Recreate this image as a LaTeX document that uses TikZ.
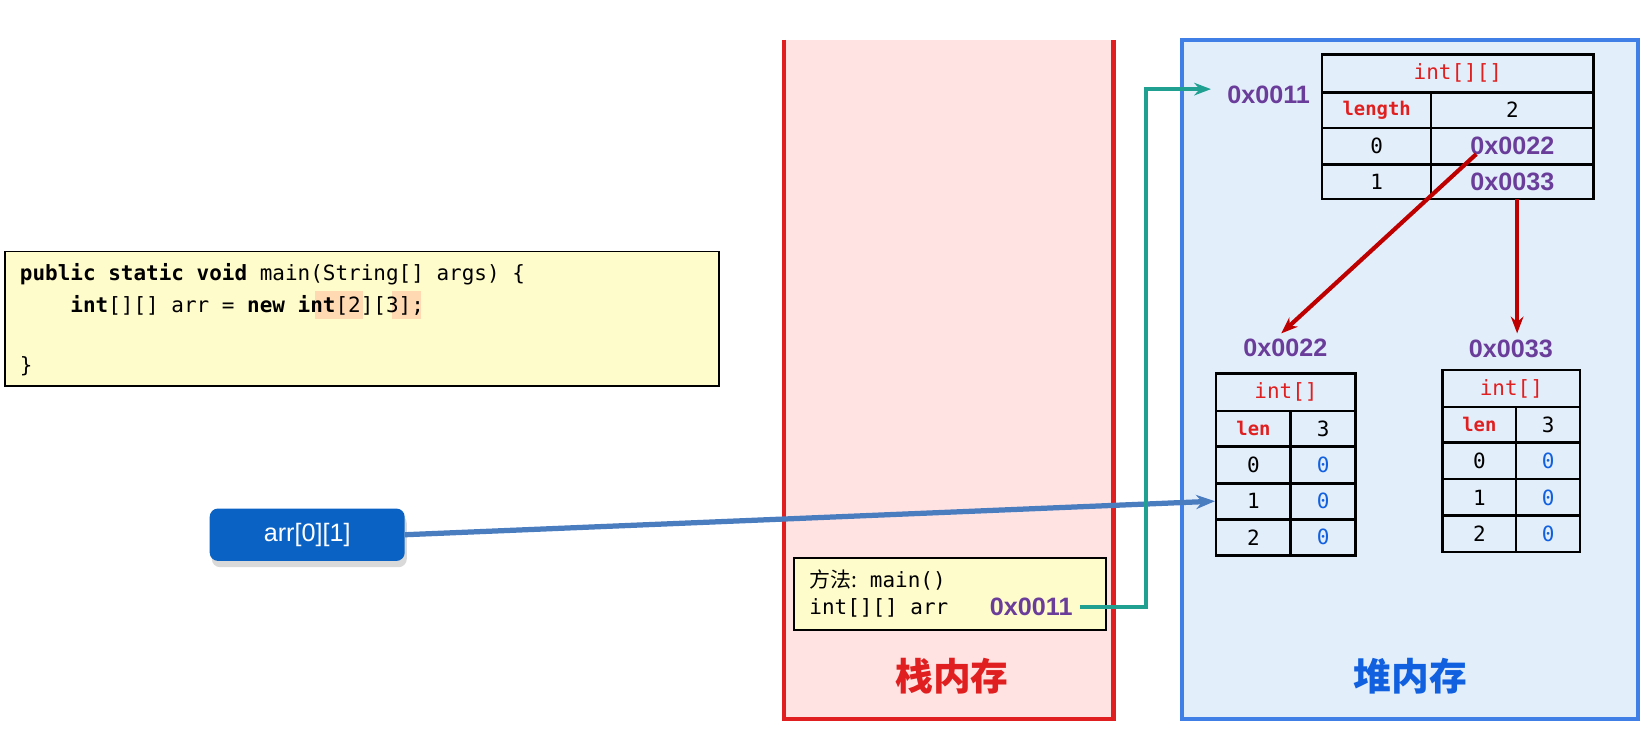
\documentclass[tikz,border=0pt]{standalone}
\usepackage{fontspec}
\setmainfont{Liberation Sans}
\setmonofont{DejaVu Sans Mono}
\newfontfamily\cjk{Noto Sans CJK SC}
\usetikzlibrary{arrows.meta}
\definecolor{hexp}{HTML}{6A3D9A}
\definecolor{redt}{HTML}{E02020}
\definecolor{bluet}{HTML}{1060E0}
\definecolor{heapbg}{HTML}{E3EEFB}
\definecolor{btnc}{HTML}{0A63C4}
\definecolor{steel}{HTML}{4A7CC0}
\definecolor{tealc}{HTML}{20A090}
\tikzset{
 cell/.style={draw=black,line width=1.2pt,minimum height=0pt,minimum width=0pt,inner sep=0pt},
 hex/.style={text=hexp,font=\rmfamily\bfseries\fontsize{12}{14}\selectfont},
 tt/.style={font=\ttfamily\fontsize{10}{12}\selectfont},
 lab/.style={font=\ttfamily\bfseries\fontsize{9}{11}\selectfont,text=redt},
 zero/.style={font=\ttfamily\fontsize{10}{12}\selectfont,text=bluet},
}
\begin{document}
\begin{tikzpicture}[x=0.5pt,y=-0.5pt]
\useasboundingbox (0,0) rectangle (1568,696);
\fill[white] (0,0) rectangle (1568,696);
% stack
\fill[red!11] (748,38) rectangle (1062,686);
\draw[redt,line width=2pt] (748,38) -- (748,686) -- (1062,686) -- (1062,38);
\node[text=redt,font=\cjk\bfseries\fontsize{18}{20}\selectfont] (stl) at (908,645) {栈内存};
% heap
\draw[fill=heapbg,draw=bluet!80,line width=2pt] (1127,38) rectangle (1562,686);
\node[text=bluet,font=\cjk\bfseries\fontsize{18}{20}\selectfont] (hpl) at (1345,645) {堆内存};
% code
\draw[fill=yellow!20,line width=0.8pt] (5,240) rectangle (686,368);
\fill[orange!30] (300,278) rectangle (346,304);
\fill[orange!30] (374,278) rectangle (402,304);
\node[tt,anchor=west] (c1) at (12,262) {\textbf{public static void} main(String[] args) \{};
\node[tt,anchor=west] (c2) at (12,291) {\phantom{xxxx}\textbf{int}[][] arr = \textbf{new} \textbf{int}[2][3];};
\node[tt,anchor=west] (c3) at (12,349) {\}};
% button
\fill[black!15,rounded corners=4pt] (202,491) rectangle (388,541);
\node[fill=btnc,rounded corners=4pt,minimum width=93pt,minimum height=25pt,text=white,font=\rmfamily\fontsize{12}{14}\selectfont] (btn) at (293,510) {arr[0][1]};
% stack frame
\draw[fill=yellow!20,line width=0.8pt] (757,532) rectangle (1055,601);
\node[tt,anchor=west] (f1) at (765,553) {{\cjk 方法:} main()};
\node[tt,anchor=west] (f2) at (765,580) {int[][] arr};
\node[hex,anchor=east] (fx) at (1030,579) {0x0011};
% outer table
\node[cell,minimum width=129.5pt,minimum height=18pt,lab,font=\ttfamily\fontsize{10}{12}\selectfont] (oh) at (1390.5,70) {int[][]};
\node[cell,minimum width=52pt,minimum height=17pt,lab] (ol) at (1313,105) {length};
\node[cell,minimum width=77.5pt,minimum height=17pt,tt] (olv) at (1442.5,105) {2};
\node[cell,minimum width=52pt,minimum height=17.5pt,tt] (o0) at (1313,139.5) {0};
\node[cell,minimum width=77.5pt,minimum height=17.5pt,hex] (o0v) at (1442.5,139.5) {0x0022};
\node[cell,minimum width=52pt,minimum height=16.5pt,tt] (o1) at (1313,173.5) {1};
\node[cell,minimum width=77.5pt,minimum height=16.5pt,hex] (o1v) at (1442.5,173.5) {0x0033};
\node[hex] (ox) at (1210,90) {0x0011};
% array A
\node[hex] (ax) at (1226,332) {0x0022};
\node[cell,minimum width=66.5pt,minimum height=18pt,lab,font=\ttfamily\fontsize{10}{12}\selectfont] (ah) at (1226.5,374) {int[]};
\node[cell,minimum width=35.5pt,minimum height=17pt,lab] (al) at (1195.5,409) {len};
\node[cell,minimum width=31pt,minimum height=17pt,tt] (alv) at (1262,409) {3};
\foreach \i/\y in {0/443.5,1/478,2/512.5}{
 \node[cell,minimum width=35.5pt,minimum height=17.5pt,tt] (a\i) at (1195.5,\y) {\i};
 \node[cell,minimum width=31pt,minimum height=17.5pt,zero] (a\i v) at (1262,\y) {0};
}
% array B
\node[hex] (bx) at (1441,333) {0x0033};
\node[cell,minimum width=65.5pt,minimum height=17.5pt,lab,font=\ttfamily\fontsize{10}{12}\selectfont] (bh) at (1441.5,370.5) {int[]};
\node[cell,minimum width=35pt,minimum height=17pt,lab] (bl) at (1411,405) {len};
\node[cell,minimum width=30.5pt,minimum height=17pt,tt] (blv) at (1476.5,405) {3};
\foreach \i/\y in {0/439.5,1/474.5,2/509}{
 \node[cell,minimum width=35pt,minimum height=17.5pt,tt] (b\i) at (1411,\y) {\i};
 \node[cell,minimum width=30.5pt,minimum height=17.5pt,zero] (b\i v) at (1476.5,\y) {0};
}
% connectors
\draw[-{Stealth[length=9pt]},line width=2.5pt,draw=steel] (btn.east) -- (a1.west);
\coordinate (t1) at (1093,579);
\coordinate (t2) at (1093,85);
\coordinate (t3) at (1155,85);
\draw[-{Stealth[length=8pt]},line width=2pt,draw=tealc] (fx.east) -- (t1) -- (t2) -- (t3);
\coordinate (r1) at (1408,147);
\coordinate (r2) at (1222,318);
\coordinate (r3) at (1447,190);
\coordinate (r4) at (1447,318);
\draw[-{Stealth[length=8pt]},line width=2pt,draw=red!75!black] (r1) -- (r2);
\draw[-{Stealth[length=8pt]},line width=2pt,draw=red!75!black] (r3) -- (r4);
\end{tikzpicture}
\end{document}
